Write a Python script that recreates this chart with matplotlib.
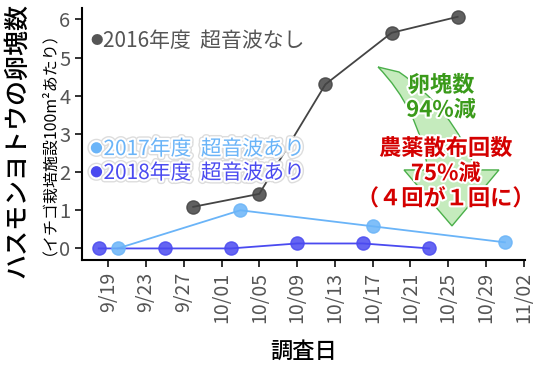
import matplotlib
matplotlib.use('Agg')
import matplotlib.pyplot as plt
import matplotlib.patheffects as pe
from matplotlib.path import Path
from matplotlib.patches import PathPatch
import pandas as pd

plt.rcParams['font.family'] = ['Noto Sans CJK JP', 'DejaVu Sans']

# data (month-day, all plotted on one common season axis)
dates16 = ['09-28', '10-05', '10-12', '10-19', '10-26']
vals16 = [1.09, 1.43, 4.30, 5.65, 6.07]
dates17 = ['09-20', '10-03', '10-17', '10-31']
vals17 = [0.0, 1.0, 0.58, 0.16]
dates18 = ['09-18', '09-25', '10-02', '10-09', '10-16', '10-23']
vals18 = [0.0, 0.0, 0.0, 0.13, 0.13, 0.0]

labels = ['2016年度  超音波なし', '2017年度  超音波あり', '2018年度  超音波あり']
cols = ['#555555', '#6ab4f8', '#4a4af0']

def d(s):
    return pd.to_datetime(['2000-' + x for x in s])

fig = plt.figure(figsize=(5.34, 3.65), dpi=100)
ax = fig.add_axes([0.154, 0.288, 0.829, 0.69])

ax.plot(d(dates16), vals16, '-', color='#444444', lw=1.3, zorder=3)
ax.plot(d(dates16), vals16, 'o', color='#444444', ms=9.5, alpha=0.85, zorder=4)
ax.plot(d(dates17), vals17, '-', color=cols[1], lw=1.3, zorder=3)
ax.plot(d(dates17), vals17, 'o', color=cols[1], ms=9.5, alpha=0.85, zorder=4)
ax.plot(d(dates18), vals18, '-', color=cols[2], lw=1.3, zorder=3)
ax.plot(d(dates18), vals18, 'o', color=cols[2], ms=9.5, alpha=0.85, zorder=4)

ax.set_xlim(pd.Timestamp('2000-09-16 06:00'), pd.Timestamp('2000-11-02 03:00'))
ax.set_ylim(-0.3, 6.3)
ax.set_yticks(range(7))
ticks = pd.date_range('2000-09-19', '2000-11-02', freq='4D')
ax.set_xticks(ticks)
ax.set_xticklabels([f'{t.month}/{t.day:02d}' for t in ticks], rotation=90)
ax.tick_params(axis='both', labelsize=14.5, labelcolor='#555555', length=5, width=1.3, color='#222222')
ax.tick_params(axis='x', labelsize=14)
for s in ['top', 'right']:
    ax.spines[s].set_visible(False)
for s in ['left', 'bottom']:
    ax.spines[s].set_linewidth(1.5)

ax.set_xlabel('調査日', fontsize=16, fontweight='medium', labelpad=12)
fig.text(0.032, 0.614, 'ハスモンヨトウの卵塊数', rotation=90, fontsize=18,
         ha='center', va='center', fontweight='medium')
fig.text(0.077, 0.63, '（イチゴ栽培施設100m²あたり）', rotation=90, fontsize=11.5,
         ha='center', va='center')

glow = [pe.Stroke(linewidth=5, foreground='#dddddd'), pe.Stroke(linewidth=3, foreground='white'), pe.Normal()]
for lab, c, yy, fx in [(labels[0], cols[0], 0.87, None), (labels[1], cols[1], 0.44, glow), (labels[2], cols[2], 0.345, glow)]:
    ax.text(0.018, yy, '●', transform=ax.transAxes, color=c, fontsize=9, va='center', path_effects=fx)
    ax.text(0.048, yy, lab, transform=ax.transAxes, color=c, fontsize=15, va='center', path_effects=fx)

# big curved "decrease" arrow (axes fraction outline)
def af(px, py):
    return ((px - 82) / 443, (260 - py) / 252)

verts = [af(378, 67), af(399, 72), af(452, 108), af(476, 170), af(499, 170), af(452, 226),
         af(404, 170), af(428, 170), af(418, 108), af(378, 67)]
codes = [Path.MOVETO, Path.LINETO, Path.CURVE3, Path.CURVE3, Path.LINETO, Path.LINETO,
         Path.LINETO, Path.LINETO, Path.CURVE3, Path.CURVE3]
ax.add_patch(PathPatch(Path(verts, codes), transform=ax.transAxes, fc='#bfe9b6', ec='#3aa83a',
                       lw=1.0, alpha=0.9, zorder=5))

wstroke = [pe.withStroke(linewidth=3, foreground='white')]
ax.text(pd.Timestamp('2000-10-24 06:00'), 3.95, '卵塊数\n94%減', color='#3a9a1a', fontsize=16,
        fontweight='bold', ha='center', va='center', linespacing=1.1, path_effects=wstroke, zorder=6)
ax.text(pd.Timestamp('2000-10-24 18:00'), 1.96, '農薬散布回数\n75%減\n（４回が１回に）', color='#d40000', fontsize=16,
        fontweight='bold', ha='center', va='center', linespacing=1.12, path_effects=wstroke, zorder=6)

fig.savefig('out.png', dpi=100)
